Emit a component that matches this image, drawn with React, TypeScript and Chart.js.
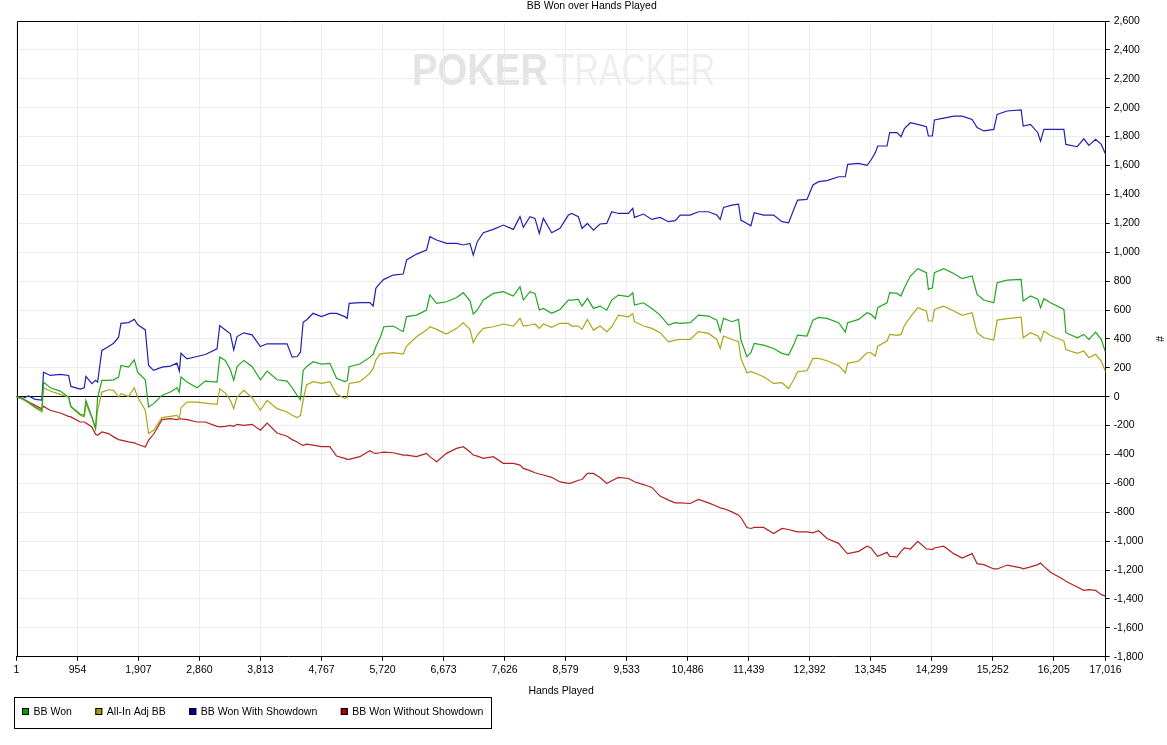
import { useEffect, useRef } from 'react'
import { Chart, registerables, Plugin } from 'chart.js'

Chart.register(...registerables)

// hands played at each sampled point (shared by all four series)
const hands = [
  1, 84, 189, 293, 397, 423, 528, 684, 814, 851, 997, 1059, 1085, 1179, 1236, 1268, 1335, 1440, 1518, 1596,
  1633, 1752, 1841, 1893, 2013, 2065, 2143, 2274, 2404, 2508, 2545, 2571, 2665, 2821, 2951, 3134, 3176, 3264, 3342, 3394,
  3447, 3551, 3681, 3811, 3916, 4072, 4228, 4307, 4385, 4437, 4479,
  4531, 4635, 4765, 4896, 5000, 5130, 5167, 5198, 5365, 5521, 5573, 5615, 5678, 5740, 5886, 6042, 6095, 6251, 6407, 6459,
  6564, 6720, 6877, 6981, 7085, 7137, 7200, 7294, 7450, 7606, 7763, 7867, 7919, 8023, 8101, 8169, 8232, 8362, 8492, 8623,
  8675, 8779, 8836, 8920, 9014, 9118, 9222, 9300, 9405, 9561, 9629, 9655, 9796, 9926, 10056, 10187, 10291, 10369, 10525, 10656,
  10812, 10942, 10995, 11047, 11177, 11281, 11318, 11412, 11474, 11526, 11672, 11829, 11959, 12063, 12141, 12204, 12350, 12444, 12532, 12663,
  12845,
  12949, 12986, 13158, 13288, 13351, 13418, 13455, 13601, 13642, 13757, 13820, 13872, 13966, 14081, 14216, 14247, 14310, 14341, 14487, 14643,
  14774, 14930, 15008, 15113, 15269, 15321, 15478, 15696, 15728, 15842, 15957, 15999, 16051, 16155, 16364, 16395, 16572, 16676, 16754, 16859,
  16948, 17016,
]

const bbWon = [
  0, -7, -37, -71, -94, 101, 62, 39, -2, -67, -122, -129, -25, -140, -221, -7, 113, 113, 117, 136,
  216, 205, 255, 170, 117, -71, -48, 9, 32, 62, 32, 136, 101, 62, 108, 101, 274, 251, 186, 113,
  209, 251, 209, 117, 177, 117, 108, 62, 9, -21, 182,
  208, 242, 226, 231, 127, 104, 111, 208, 226, 272, 295, 346, 404, 484, 489, 450, 554, 565, 600, 704,
  646, 657, 687, 720, 664, 572, 600, 669, 715, 727, 697, 761, 669, 727, 715, 600, 611, 577, 604, 669,
  669, 673, 627, 680, 611, 627, 599, 669, 703, 692, 719, 634, 650, 611, 565, 496, 512, 507, 512, 565,
  558, 530, 450, 542, 519, 535, 392, 277, 304, 369, 357, 334, 300, 288, 357, 426, 420, 530, 549, 542,
  512,
  447, 512, 535, 581, 570, 540, 616, 650, 720, 715, 697, 754, 835, 886, 858, 743, 754, 858, 886, 853,
  817, 835, 708, 669, 650, 789, 807, 812, 662, 697, 674, 616, 678, 650, 604, 443, 408, 431, 397, 447,
  397, 305,
]

const allInAdjBB = [
  0, -14, -44, -76, -106, 62, 39, 16, -2, -71, -129, -140, -48, -145, -221, -94, 32, 48, 44, -2,
  21, 2, 62, -2, -94, -255, -232, -145, -136, -129, -152, -76, -37, -37, -44, -53, 55, 25, -25, -83,
  -2, 44, -7, -94, -25, -83, -106, -129, -145, -129, -25,
  81, 104, 92, 104, 18, -12, -5, 92, 104, 161, 196, 254, 295, 300, 305, 295, 351, 415, 461, 484,
  466, 434, 473, 512, 466, 374, 427, 473, 484, 503, 489, 542, 489, 496, 503, 473, 503, 480, 508, 508,
  489, 489, 466, 535, 461, 489, 450, 484, 565, 553, 576, 519, 489, 473, 443, 380, 392, 396, 396, 450,
  438, 396, 334, 420, 396, 380, 265, 166, 173, 166, 138, 92, 97, 57, 115, 173, 180, 265, 265, 249,
  215,
  166, 231, 247, 304, 304, 281, 350, 385, 431, 424, 431, 493, 553, 616, 593, 524, 524, 604, 627, 593,
  563, 581, 443, 408, 392, 530, 540, 551, 408, 443, 420, 385, 454, 424, 385, 327, 300, 316, 270, 293,
  247, 171,
]

const bbWonShowdown = [
  0, -14, 5, -18, -23, 170, 147, 154, 147, 71, 53, 62, 140, 90, 113, 101, 320, 347, 370, 412,
  508, 513, 536, 499, 462, 216, 182, 205, 212, 232, 177, 301, 262, 278, 292, 331, 492, 462, 435, 324,
  416, 442, 428, 347, 366, 366, 366, 274, 278, 308, 515,
  531, 577, 554, 577, 577, 554, 542, 646, 651, 651, 628, 750, 784, 812, 842, 849, 946, 987, 1015, 1107,
  1084, 1061, 1061, 1050, 1061, 980, 1073, 1135, 1158, 1188, 1158, 1246, 1172, 1246, 1234, 1130, 1234, 1135, 1165, 1257,
  1268, 1245, 1165, 1199, 1153, 1195, 1199, 1280, 1268, 1268, 1303, 1241, 1264, 1227, 1241, 1211, 1218, 1257, 1257, 1280,
  1280, 1257, 1227, 1310, 1326, 1333, 1222, 1199, 1183, 1273, 1257, 1257, 1211, 1204, 1292, 1361, 1365, 1465, 1488, 1495,
  1522,
  1522, 1608, 1615, 1601, 1638, 1689, 1735, 1735, 1827, 1827, 1799, 1855, 1896, 1885, 1868, 1804, 1804, 1915, 1928, 1942,
  1942, 1919, 1862, 1839, 1850, 1954, 1977, 1984, 1873, 1885, 1827, 1769, 1850, 1850, 1850, 1746, 1730, 1785, 1739, 1781,
  1746, 1677,
]

const bbWonNoShowdown = [
  0, -14, -37, -60, -83, -67, -94, -113, -136, -140, -175, -175, -182, -209, -260, -267, -244, -255, -278, -297,
  -301, -313, -320, -329, -348, -301, -260, -159, -152, -159, -152, -154, -159, -175, -175, -205, -209, -205, -198, -205,
  -191, -198, -191, -232, -182, -251, -274, -297, -313, -329, -336,
  -328, -335, -346, -346, -411, -427, -434, -434, -415, -374, -388, -392, -388, -383, -388, -404, -404, -415, -392, -415,
  -450, -392, -358, -346, -381, -404, -411, -427, -415, -461, -461, -473, -496, -512, -526, -535, -542, -558, -590, -600,
  -596, -578, -573, -531, -531, -559, -601, -582, -559, -566, -582, -589, -608, -628, -688, -716, -735, -735, -739, -711,
  -735, -758, -769, -774, -797, -820, -836, -905, -912, -905, -905, -947, -912, -919, -928, -935, -935, -942, -928, -981,
  -1015,
  -1070, -1086, -1070, -1035, -1047, -1086, -1105, -1077, -1105, -1109, -1070, -1047, -1054, -1001, -1054, -1054, -1058, -1047, -1035, -1086,
  -1116, -1086, -1155, -1162, -1192, -1192, -1165, -1185, -1192, -1178, -1162, -1151, -1174, -1215, -1266, -1278, -1317, -1340, -1335, -1340,
  -1370, -1380,
]

const xTicks = [1, 954, 1907, 2860, 3813, 4767, 5720, 6673, 7626, 8579, 9533, 10486, 11439, 12392, 13345, 14299, 15252, 16205, 17016]

const seriesNames = ['BB Won', 'All-In Adj BB', 'BB Won With Showdown', 'BB Won Without Showdown']
const seriesValues = [bbWon, allInAdjBB, bbWonShowdown, bbWonNoShowdown]
const lineColors = ['#22a622', '#aca616', '#2020b2', '#b22222']
const markerColors = ['#00a000', '#a0a000', '#0000a0', '#a00000']

const FONT = '"Liberation Sans", Arial, sans-serif'
const fmt = (v: number) => v.toLocaleString('en-US')

// faint PokerTracker logo behind the grid
const watermark: Plugin = {
  id: 'watermark',
  beforeDraw(chart) {
    const { ctx } = chart
    const fit = (text: string, weight: string, left: number, width: number, color: string) => {
      ctx.save()
      ctx.font = `${weight} 44px ${FONT}`
      const w = ctx.measureText(text).width
      ctx.translate(left, 85)
      ctx.scale(width / w, 1)
      ctx.fillStyle = color
      ctx.textBaseline = 'alphabetic'
      ctx.fillText(text, 0, 0)
      ctx.restore()
    }
    fit('POKER', 'bold', 412, 136, '#e4e4e4')
    fit('TRACKER', 'normal', 554, 161, '#efefef')
  },
}

// black frame on the top and left of the plot
const frame: Plugin = {
  id: 'frame',
  beforeDatasetsDraw(chart) {
    const { ctx, chartArea } = chart
    ctx.save()
    ctx.strokeStyle = '#000'
    ctx.lineWidth = 1
    ctx.beginPath()
    ctx.moveTo(Math.round(chartArea.left) + 0.5, Math.round(chartArea.bottom))
    ctx.lineTo(Math.round(chartArea.left) + 0.5, Math.round(chartArea.top) + 0.5)
    ctx.lineTo(Math.round(chartArea.right), Math.round(chartArea.top) + 0.5)
    ctx.stroke()
    ctx.restore()
  },
}

// boxed legend in the bottom-left corner
const boxLegend: Plugin = {
  id: 'boxLegend',
  afterDraw(chart) {
    const { ctx } = chart
    ctx.save()
    ctx.font = `10.5px ${FONT}`
    ctx.textBaseline = 'middle'
    ctx.lineWidth = 1
    let x = 22
    seriesNames.forEach((name, i) => {
      ctx.fillStyle = markerColors[i]
      ctx.fillRect(x, 708, 7, 7)
      ctx.strokeStyle = '#000'
      ctx.strokeRect(x + 0.5, 708.5, 6, 6)
      ctx.fillStyle = '#000'
      ctx.fillText(name, x + 11.5, 712)
      const end = x + 11.5 + ctx.measureText(name).width
      x = end + 23.5
      if (i === seriesNames.length - 1) {
        ctx.strokeRect(14.5, 697.5, Math.round(end + 8 - 14), 31)
      }
    })
    ctx.restore()
  },
}

export default function App() {
  const canvasRef = useRef<HTMLCanvasElement | null>(null)

  useEffect(() => {
    document.body.style.margin = '0'
    Chart.defaults.font.family = FONT
    Chart.defaults.font.size = 10.5
    Chart.defaults.color = '#000'

    let chart: Chart | null = null
    if (canvasRef.current) {
      chart = new Chart(canvasRef.current, {
        type: 'line',
        data: {
          datasets: seriesNames.map((label, i) => ({
            label,
            data: hands.map((x, j) => ({ x, y: seriesValues[i][j] })),
            borderColor: lineColors[i],
            backgroundColor: markerColors[i],
            borderWidth: 1.2,
            pointRadius: 0,
            tension: 0,
            fill: false,
          })),
        },
        options: {
          animation: false,
          responsive: false,
          layout: { padding: { left: 16.5, right: 0, top: 0, bottom: 48 } },
          plugins: {
            legend: { display: false },
            tooltip: { enabled: false },
            title: {
              display: true,
              text: 'BB Won over Hands Played',
              color: '#000',
              font: { size: 10.5, weight: 'normal' },
              padding: { top: 0, bottom: 8.4 },
            },
          },
          scales: {
            x: {
              type: 'linear',
              min: 1,
              max: 17016,
              afterBuildTicks: (axis) => {
                axis.ticks = xTicks.map((value) => ({ value }))
              },
              ticks: {
                autoSkip: false,
                maxRotation: 0,
                padding: 3,
                color: '#000',
                callback: (v) => fmt(Number(v)),
              },
              grid: { color: '#ececec', tickColor: '#000', tickLength: 4 },
              border: { color: '#000' },
              title: { display: true, text: 'Hands Played', color: '#000', padding: { top: 5, bottom: 0 } },
            },
            y: {
              position: 'right',
              min: -1800,
              max: 2600,
              ticks: { stepSize: 200, padding: 4, color: '#000', callback: (v) => fmt(Number(v)) },
              grid: {
                color: (c) => (c.tick && c.tick.value === 0 ? '#000' : '#ececec'),
                tickColor: '#000',
                tickLength: 4,
              },
              border: { color: '#000' },
              title: { display: true, text: '#', color: '#000', padding: { top: 2, bottom: 5 } },
            },
          },
        },
        plugins: [watermark, frame, boxLegend],
      })
    }

    return () => {
      if (chart) chart.destroy()
    }
  }, [])

  return (
    <div style={{ width: 1167, height: 745, background: '#fff' }}>
      <canvas ref={canvasRef} width={1167} height={745} style={{ display: 'block' }} />
    </div>
  )
}
